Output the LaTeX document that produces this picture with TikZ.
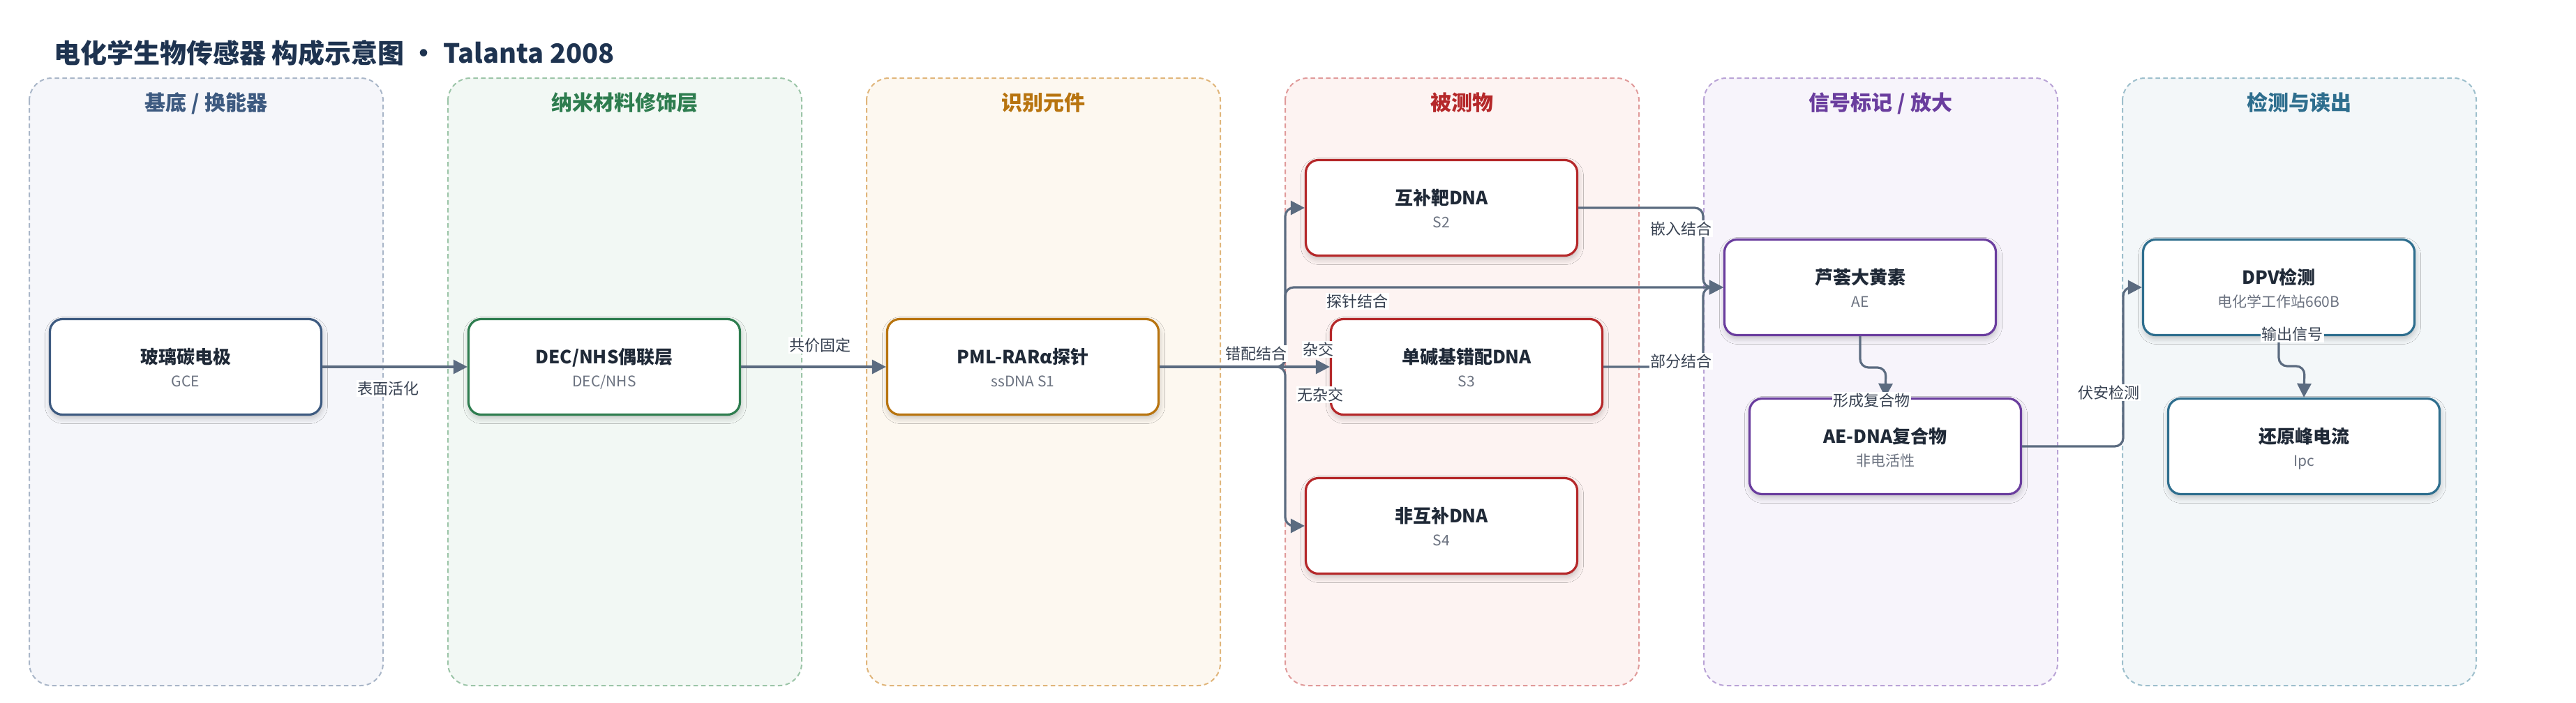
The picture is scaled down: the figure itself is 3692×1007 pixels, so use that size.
\documentclass[tikz,border=0pt]{standalone}
\usepackage{fontspec}
\setmainfont{Noto Sans CJK SC}
\usetikzlibrary{arrows.meta,shadows.blur}
\definecolor{titlec}{HTML}{1E3350}
\definecolor{ink}{HTML}{1F2937}
\definecolor{subc}{HTML}{6B7280}
\definecolor{lblc}{HTML}{374151}
\definecolor{edgec}{HTML}{5B6B80}
\definecolor{ca}{HTML}{3D5A80}\definecolor{caf}{HTML}{F5F6FA}\definecolor{cab}{HTML}{A9B6C8}
\definecolor{cb}{HTML}{2E7D4F}\definecolor{cbf}{HTML}{F2F8F4}\definecolor{cbb}{HTML}{9CC5A8}
\definecolor{cc}{HTML}{B8740F}\definecolor{ccf}{HTML}{FDF8F0}\definecolor{ccb}{HTML}{E0B57A}
\definecolor{cd}{HTML}{B5282A}\definecolor{cdf}{HTML}{FDF3F2}\definecolor{cdb}{HTML}{E09A9A}
\definecolor{ce}{HTML}{6A3D9E}\definecolor{cef}{HTML}{F7F4FB}\definecolor{ceb}{HTML}{B9A3D6}
\definecolor{cf}{HTML}{2E6E8E}\definecolor{cff}{HTML}{F3F7F9}\definecolor{cfb}{HTML}{9DBFCC}
\newcommand\mkbox[5]{%
  \node[box,draw=#3] (#1) at (#2) {};
  \node[ttl,anchor=base] (#1-t) at ([yshift=5pt]#1.center) {#4};
  \node[sub,anchor=base] (#1-s) at ([yshift=-28pt]#1.center) {#5};}
\newcommand\mkcol[5]{%
  \path[colbox,draw=#3b,fill=#3f] (#1,112) rectangle (#2,983);
  \node[hdr,text=#3] (#4) at ({(#1+#2)/2},158) {#5};}
\begin{document}
\begin{tikzpicture}[x=1pt,y=-1pt,
  colbox/.style={rounded corners=32pt, dash pattern=on 6.5pt off 4.5pt, line width=2pt},
  box/.style={rounded corners=18pt, line width=3.2pt, fill=white, minimum width=389pt, minimum height=137pt, inner sep=0pt,
    blur shadow={shadow xshift=1pt, shadow yshift=-5pt, shadow blur radius=8pt, shadow opacity=22}},
  ttl/.style={font=\fontsize{26}{30}\selectfont\bfseries, text=ink, inner sep=0pt},
  sub/.style={font=\fontsize{21}{25}\selectfont, text=subc, inner sep=0pt},
  hdr/.style={font=\fontsize{30}{34}\selectfont\bfseries, inner sep=0pt, anchor=base},
  lbl/.style={font=\fontsize{22}{26}\selectfont, text=lblc, fill=white, inner sep=1.5pt},
  conn/.style={draw=edgec, line width=3.2pt, rounded corners=12pt, -{Triangle[length=20pt,width=20pt]}},
]
\useasboundingbox (0,0) rectangle (3692,1007);
\node[anchor=base west, inner sep=0pt, text=titlec, font=\fontsize{38}{44}\selectfont\bfseries] (title) at (77,90) {电化学生物传感器 构成示意图 • Talanta 2008};
% columns
\mkcol{42}{549}{ca}{h1}{基底 / 换能器}
\mkcol{642}{1149}{cb}{h2}{纳米材料修饰层}
\mkcol{1242}{1749}{cc}{h3}{识别元件}
\mkcol{1842}{2349}{cd}{h4}{被测物}
\mkcol{2442}{2949}{ce}{h5}{信号标记 / 放大}
\mkcol{3042}{3549}{cf}{h6}{检测与读出}
% nodes
\mkbox{gce}{266,526}{ca}{玻璃碳电极}{GCE}
\mkbox{dec}{866,526}{cb}{DEC/NHS偶联层}{DEC/NHS}
\mkbox{probe}{1466,526}{cc}{PML-RARα探针}{ssDNA S1}
\mkbox{s2}{2066,298}{cd}{互补靶DNA}{S2}
\mkbox{s3}{2102,526}{cd}{单碱基错配DNA}{S3}
\mkbox{s4}{2066,754}{cd}{非互补DNA}{S4}
\mkbox{ae}{2666,412}{ce}{芦荟大黄素}{AE}
\mkbox{aedna}{2702,640}{ce}{AE-DNA复合物}{非电活性}
\mkbox{dpv}{3266,412}{cf}{DPV检测}{电化学工作站660B}
\mkbox{ipc}{3302,640}{cf}{还原峰电流}{Ipc}
% connectors
\draw[conn] (gce.east) -- (dec.west);
\draw[conn] (dec.east) -- (probe.west);
\draw[conn] (probe.east) -- (1842,526) -- (1842,298) -- (s2.west);
\draw[conn] (probe.east) -- (1842,526) -- (1842,412) -- (ae.west);
\draw[conn] (probe.east) -- (s3.west);
\draw[conn] (probe.east) -- (1842,526) -- (1842,754) -- (s4.west);
\draw[conn] (s2.east) -- (2441,298) -- (2441,412) -- (ae.west);
\draw[conn] (s3.east) -- (2441,526) -- (2441,412) -- (ae.west);
\draw[conn] (ae.south) -- (2666,527) -- (2703,527) -- (aedna.north);
\draw[conn] (aedna.east) -- (3043,640) -- (3043,412) -- (dpv.west);
\draw[conn] (dpv.south) -- (3266,525) -- (3303,525) -- (ipc.north);
% labels
\node[lbl] (l1) at (556,557) {表面活化};
\node[lbl] (l2) at (1175,495) {共价固定};
\node[lbl] (l3) at (1800,507) {错配结合};
\node[lbl] (l4) at (1889,501) {杂交};
\node[lbl] (l5) at (1892,566) {无杂交};
\node[lbl] (l6) at (1945,432) {探针结合};
\node[lbl] (l7) at (2409,328) {嵌入结合};
\node[lbl] (l8) at (2409,518) {部分结合};
\node[lbl] (l9) at (2682,574) {形成复合物};
\node[lbl] (l10) at (3022,563) {伏安检测};
\node[lbl] (l11) at (3285,479) {输出信号};
\end{tikzpicture}
\end{document}
